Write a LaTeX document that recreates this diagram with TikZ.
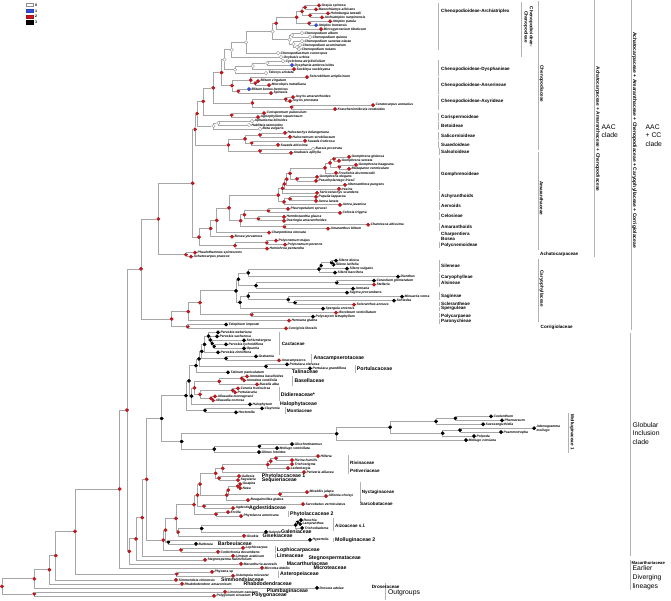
\documentclass[tikz,border=0pt]{standalone}
\usepackage{fontspec}
\setmainfont{Liberation Sans}
\usetikzlibrary{calc}
\definecolor{dred}{HTML}{C4161C}
\definecolor{dblue}{HTML}{2F4FD8}
\newcommand\ftip{\fontsize{3.35}{3.9}\selectfont\bfseries\itshape}
\newcommand\fclade{\fontsize{4.6}{5.2}\selectfont\bfseries}
\newcommand\fcladeL{\fontsize{5.2}{5.8}\selectfont\bfseries}
\newcommand\fbig{\fontsize{6.8}{8.6}\selectfont}
\begin{document}
\begin{tikzpicture}[x=1pt,y=-1pt,
 tdot/.style={circle,inner sep=0pt,minimum size=3.5pt,line width=0.35pt},
 cr/.style={fill=dred,draw=dred!85!black},
 cb/.style={fill=dblue,draw=dblue!85!black},
 ck/.style={fill=black,draw=black},
 cw/.style={fill=white,draw=gray!90},
 brn/.style={draw=gray!70,line width=0.65pt},
 cbar/.style={draw=gray!60,line width=0.7pt},
 tiplab/.style={anchor=west,inner sep=0.5pt,font=\ftip,align=left},
 clab/.style={anchor=west,inner sep=0pt,font=\fclade},
 clabL/.style={anchor=west,inner sep=0pt,font=\fcladeL},
 biglab/.style={anchor=west,inner sep=0pt,font=\fbig,align=left},
 rlab/.style={rotate=-90,inner sep=0pt,font=\fclade,align=center}]
\useasboundingbox (0,0) rectangle (671,601);

% legend
\foreach \yy/\st/\tt [count=\i] in {5/cw/0,11/cb/1,16.7/cr/2,22.3/ck/3}{
  \node[\st,rectangle,minimum width=7pt,minimum height=3.4pt,inner sep=0pt,line width=0.4pt] (lg\i) at (29.7,\yy) {};
  \node[anchor=west,inner sep=0pt,font=\fontsize{3.6}{4}\selectfont\bfseries] (lgt\i) at ([xshift=1.6pt]lg\i.east) {\tt};
}

% tips
\foreach \tk/\tx/\tc/\tl in {
0/319/cr/Grayia spinosa,1/316/cr/Manochlamys albicans,2/328/cr/Holmbergia tweedii,3/322/cr/Archiatriplex nanpinensis,
4/330/cr/Atriplex patula,5/316/cb/Atriplex hortensis,6/321/cr/Microgynoecium tibeticum,7/302/cw/Chenopodium album,
8/310/cw/Chenopodium quinoa,9/302/cw/Chenopodium sanctae-clarae,10/300/cw/Chenopodium acuminatum,11/299/cw/Chenopodium nutans,
12/278/cw/Chenopodiastrum coronopus,13/281/cw/Oxybasis urbica,14/283/cw/Cycloloma atriplicifolium,15/292/cb/Dysphania ambrosioides,
16/294/cr/Suckleya suckleyana,17/266/cw/Teloxys aristata,18/307/cr/Scleroblitum atriplicinum,19/258/cr/Blitum virgatum,
20/269/cr/Monolepis nuttalliana,21/249/cb/Blitum bonus-henricus,22/271/cr/Spinacia,23/293/cr/Axyris amaranthoides,
24/290/cr/Axyris prostrata,25/373/cr/Ceratocarpus arenarius,26/335/cr/Krascheninnikovia ceratoides,27/264/cr/Corispermum puberulum,
28/258/cr/Agriophyllum squarrosum,29/252/cw/Aphanisma blitoides,30/249/cw/Hablitzia tamnoides,31/260/cw/Beta vulgaris,
32/285/cr/Halostachys belangeriana,33/290/cr/Halocnemum strobilaceum,34/305/cr/Suaeda fruticosa,35/278/cr/Suaeda altissima,
36/313/cw/Bassia prostrata,37/291/cr/Anabasis aphylla,38/349/cr/Gomphrena globosa,39/339/cr/Gomphrena serrata,
40/356/cr/Gomphrena haageana,41/349/cr/Blutaparon vermiculare,42/336/cr/Froelichia drummondii,43/317/cr/Gomphrena elegans,
44/316/cr/Pseudoplantago friesii,45/345/cr/Alternanthera pungens,46/339/cr/Iresine,47/317/cr/Sericostachys scandens,
48/316/cr/Pupalia lappacea,49/316/cr/Aerva lanata,50/340/cr/Aerva javanica,51/288/cr/Pleuropetalum sprucei,
52/340/cr/Celosia trigyna,53/284/cr/Hermbstaedtia glauca,54/284/cr/Deeringia amaranthoides,55/368/cr/Chamissoa altissima,
56/328/cr/Amaranthus blitum,57/269/cr/Charpentiera obovata,58/232/cr/Bosea yervamora,59/276/cr/Polycnemum majus,
60/285/cr/Polycnemum perenne,61/267/cr/Hemichroa pentandra,62/195/cr/Phaulothamnus spinescens,63/191/cr/Achatocarpus praecox,
64/336/ck/Silene dioica,65/333.5/ck/Silene latifolia,66/347/ck/Silene vulgaris,67/335/ck/Silene baccifera,
68/398/ck/Dianthus,69/374/ck/Cerastium glomeratum,70/374/cr/Stellaria,71/353/ck/Arenaria,
72/347/ck/Sagina procumbens,73/402/ck/Minuartia verna,74/394/ck/Schiedea,75/354/cr/Scleranthus annuus,
76/323/ck/Spergula arvensis,77/336/cr/Illecebrum verticillatum,78/313/ck/Polycarpon tetraphyllum,79/289/cr/Herniaria glabra,
80/226/ck/Telephium imperati,81/286/cr/Corrigiola litoralis,82/218/ck/Pereskia weberiana,83/217/ck/Pereskia sacharosa,
84/244/ck/Schlumbergera,85/226/ck/Pereskia lychnidiflora,86/244/ck/Opuntia,87/218/ck/Pereskia zinniiflora,
88/256/ck/Grahamia,89/279/cr/Anacampseros,90/287/ck/Portulaca oleracea,91/310/ck/Portulaca grandiflora,
92/228/ck/Talinum paniculatum,93/247/cr/Anredera baselloides,94/244/cr/Anredera cordifolia,95/257/cr/Basella alba,
96/238/cr/Ceraria fruticulosa,97/235/cr/Portulacaria,98/215/cr/Alluaudia montagnacii,99/213/cr/Alluaudia comosa,
100/250/ck/Halophytum,101/262/ck/Claytonia,102/236/ck/Hectorella,103/491/ck/Coelanthum,
104/502/ck/Pharnaceum,105/483/ck/Suessenguthiella,106/534/ck/{Adenogramma\\mollugo},107/501/ck/Psammotropha,
108/474/ck/Polpoda,109/466/ck/Mollugo cerviana,110/292/ck/Glischrothamnus,111/277/ck/Mollugo verticillata,
112/259/ck/Glinus lotoides,113/318/cr/Hilleria,114/292/cr/Rivina humilis,115/292/cr/Trichostigma,
116/288/cr/Ledenbergia,117/304/cr/Petiveria alliacea,118/239/cr/Gallesia,119/238/cr/Seguieria,
120/240/cr/Guapira,121/240/cr/Neea,122/307/cr/Mirabilis jalapa,123/326/cr/Allionia choisyi,
124/248/cr/Bougainvillea glabra,125/303/cr/Sarcobatus vermiculatus,126/233/cr/Agdestis,127/228/cr/Ercilla,
128/241/cr/Phytolacca americana,129/301/ck/Ruschia,130/300/ck/Lampranthus,131/302/ck/Trichodiadema,
132/266/ck/Galenia,133/244/cr/Gisekia,134/310/ck/Hypertelis,135/196/ck/Barbeuia,
136/243/cr/Lophiocarpus,137/218/cr/Corbichonia decumbens,138/233/cr/Limeum arabicum,139/205/cr/Stegnosperma halimifolium,
140/241/cr/Macarthuria australis,141/262/cr/Microtea debilis,142/212/cr/Physena sp,143/233/cr/Asteropeia micraster,
144/176/cr/Simmondsia chinensis,145/182/cr/Rhabdodendron amazonicum,146/317/ck/Drosera adelae,147/225/cr/Limonium caesium,
148/214/cr/Polygonum sinuatum}{
  \node[tdot,\tc] (t\tk) at (\tx,{5.3+3.99*\tk}) {};
  \node[tiplab] (l\tk) at (t\tk.east) {\tl};
}

% internal nodes: name / x / child A / child B / colour  (y = midpoint of children)
\foreach \nm/\xp/\ca/\cb/\cl in {
A01/305/t0/t1/cr,A23/310/t2/t3/cr,A03/302/A01/A23/cr,A45/309/t4/t5/cr,A05/296.7/A03/A45/cr,ARC/276/A05/t6/cr,
C78/292/t7/t8/cw,C1011/297/t10/t11/cw,C911/293.5/t9/C1011/cw,CH/289.5/C78/C911/cw,ARCH/272.7/ARC/CH/cw,
NCH/246/ARCH/t12/cw,NCO/231.7/NCH/t13/cw,D1415/267.3/t14/t15/cw,D3/252.7/D1415/t16/cw,DYS/235/D3/t17/cw,
NCD/224.5/NCO/DYS/cw,B1920/255.3/t19/t20/cr,B18/250.7/t18/B1920/cr,B2122/238.3/t21/t22/cr,ANS/232/B18/B2122/cr,
CHDA/221.5/NCD/ANS/cr,AX2324/285.7/t23/t24/cr,AX2526/291.7/t25/t26/cr,AXY/252.3/AX2324/AX2526/cr,
CHEN/213.3/CHDA/AXY/cr,COR/231.7/t27/t28/cr,CC1/203.3/CHEN/COR/cr,BE1/218.3/t29/t30/cw,BET/213.3/BE1/t31/cw,
CC2/197/CC1/BET/cr,SA/260/t32/t33/cr,SU/251.7/t34/t35/cr,SASU/245/SA/SU/cr,SAL/260/t36/t37/cr,
SSS/228.3/SASU/SAL/cr,CHENO/195/CC2/SSS/cr,
g3839/334/t38/t39/cr,g4041/339.3/t40/t41/cr,g3841/330/g3839/g4041/cr,g3842/325/g3841/t42/cr,
g4344/297/t43/t44/cr,G4/290/g3842/g4344/cr,G3/286.7/G4/t45/cr,G2/284.3/G3/t46/cr,GUP/282.5/G2/t47/cr,
AE1/290/t48/t49/cr,AE/284/AE1/t50/cr,GOM/278.3/GUP/AE/cr,CE1/268.3/t51/t52/cr,HD/258.3/t53/t54/cr,
CEHD/244.3/CE1/HD/cr,CH1/284.3/t55/t56/cr,AMR/240.7/CEHD/CH1/cr,AM3/229/GOM/AMR/cr,AM2/216.7/AM3/t57/cr,
AM1/210.7/AM2/t58/cr,P5960/266.7/t59/t60/cr,POL/235/P5960/t61/cr,AM/199/AM1/POL/cr,CA/192.7/CHENO/AM/cr,
ACH/186/t62/t63/cr,AAC/158.3/CA/ACH/cr,
SL1/331.5/t64/t65/ck,SL2/321/SL1/t66/ck,SL3/319/SL2/t67/ck,SLD/248.3/SL3/t68/ck,CS/336.7/t69/t70/ck,
CSA/256/CS/t71/ck,CAR1/238.3/SLD/CSA/ck,SG1/295/t74/t75/ck,SG2/288.3/t73/SG1/ck,SG3/248.3/t72/SG2/ck,
SP/240/SG3/t76/ck,CY2/236/CAR1/SP/ck,IP/251.7/t77/t78/cr,CY1/200/CY2/IP/cr,CY/188.3/CY1/t79/cr,
CT/187.7/t80/t81/cr,CC/171.7/CY/CT/cr,ACC/141/AAC/CC/cr,
CP1/214/t85/t86/ck,CP2/212/t84/CP1/ck,CP3/210.3/t83/CP2/ck,CP4/208.5/t82/CP3/ck,CE/204.5/CP4/t87/ck,
GA/226/t88/t89/ck,ACg/201.7/CE/GA/ck,PO/266/t90/t91/ck,ACP/199/ACg/PO/ck,ACPT/196/ACP/t92/ck,
B1/241.7/t93/t94/cr,B0/219.3/B1/t95/cr,D1/232.7/t96/t97/cr,D2/211/t98/t99/cr,D0/200/D1/D2/cr,
BD/194.5/B0/D0/cr,BDH/191.5/BD/t100/ck,XP/189/ACPT/BDH/ck,MO/205/t101/t102/ck,Port/186/XP/MO/ck,
M12/455.3/t103/t104/ck,M123/436/M12/t105/ck,M45/460/t106/t107/ck,M456/442.7/M45/t108/ck,
M16/390/M123/M456/ck,MOL1/336.7/M16/t109/ck,GL12/259.3/t110/t111/ck,GL/214.3/GL12/t112/ck,
MG/181.7/MOL1/GL/ck,PM/161.7/Port/MG/ck,
R4/276/t113/t114/cr,R3/270.7/R4/t115/cr,R2/267.7/R3/t116/cr,R1/222.7/R2/t117/cr,S1/219/t118/t119/cr,
R0/215.7/R1/S1/cr,NY1/237.7/t120/t121/cr,NY2/280/t122/t123/cr,NY3/228.3/NY1/NY2/cr,NY4/226.7/NY3/t124/cr,
RN/200/R0/NY4/cr,SA2/204/t125/t126/cr,RNS/197.5/RN/SA2/cr,PA/216/t127/t128/cr,RNAP/194/RNS/PA/cr,
AZ1/297.5/t129/t130/ck,AZ0/295.5/AZ1/t131/ck,AZG/201.7/AZ0/t132/ck,AG/178/AZG/t133/cr,G2g/176/RNAP/AG/cr,
MB/168.3/t134/t135/ck,G1g/165.5/G2g/MB/cr,LC/181/t136/t137/cr,G0g/163.3/G1g/LC/cr,
PMG/146.7/PM/G0g/cr,L1/142.3/PMG/t138/cr,L2/136/L1/t139/cr,L3/129.3/L2/t140/cr,L4/127/ACC/L3/cr,
L5/119.7/L4/t141/cr,PA2/176.7/t142/t143/cr,L6/75/L5/PA2/cr,L7/55.7/L6/t144/cr,L8/49.3/L7/t145/cr,
L9/34.3/L8/t146/cr,LP/34.3/t147/t148/cr,ROOT/2/L9/LP/cr}{
  \path let \p1=(\ca.center), \p2=(\cb.center) in
    node[tdot,\cl] (\nm) at (\xp pt,{0.5*(\y1+\y2)}) {};
  \draw[brn] (\nm) |- (\ca);
  \draw[brn] (\nm) |- (\cb);
}

% clade bars
\foreach \bx/\ya/\yb in {438/3/50,521.7/2/57,438/60.5/76,438/77/94,438/95/110,438/113/121,438/122/130.5,
438/132.5/140,438/141/148,439/148.5/155,439/158/190,439/191.5/201,439/202.3/210,439/211.7/220.5,439/223/231,
439/241.7/248.5,439/260/271.7,439/273.3/280,439/280.5/287,439/291.7/300,439/301.7/306,439/306.7/310.7,
439/313.3/318.3,439/319.3/324,538.7/1/150,538.7/152/250,538.7/259/322,594.3/0/257,631/0/330,630/333/556,
630/560/590,568.3/413/453,279.3/331.7/355,311.7/354/363.3,355/365/372.7,292.7/376/386,279.3/387.3/400.7,
285/407.3/414,348/455/474,360/481.7/501.7,288.3/510.7/517.3,333.3/518.3/530.7,333.3/537.7/541.7,
275.7/545.7/553.3,275.7/554/557.5,278.3/571/578,385/583/600}{
  \draw[cbar] (\bx,\ya) -- (\bx,\yb);
}

% clade labels (small)
\foreach \xx/\yy/\tt [count=\i] in {441/11/Chenopodioideae-Archiatriplex,441/69/Chenopodioideae-Dysphanieae,
441/85.7/Chenopodioideae-Anserineae,441/101.3/Chenopodioideae-Axyrideae,441/117/Corispermoideae,441/126/Betoideae,
441/136.3/Salicornioideae,441/144.5/Suaedoideae,441/152/Salsoloideae,441/174/Gomphrenoideae,441/196.7/Achyranthoids,
441/205.7/Aervoids,441/216/Celosieae,441/227.3/Amaranthoids,441/234/Charpentiera,441/238.5/Bosea,441/245.7/Polycnemoideae,
540/254.3/Achatocarpaceae,441/266.3/Sileneae,441/277/Caryophylleae,441/283/Alsineae,441/296/Sagineae,441/303.7/Sclerantheae,
441/308.5/Sperguleae,441/316/Polycarpaeae,441/321.7/Paronychieae,540.5/327/Corrigiolaceae,281.7/344.3/Cactaceae,
286.7/411/Montiaceae,350/462.7/Rivinaceae,350/470.7/Petiveriaceae,361.7/492.3/Nyctaginaceae,360/504/Sarcobataceae,
335/526/Aizoaceae s.l.,371.7/587.3/Droseraceae}{
  \node[clab] (ca\i) at (\xx,\yy) {\tt};
}
% clade labels (larger)
\foreach \xx/\yy/\tt [count=\i] in {313.3/358.3/Anacampserotaceae,356.7/368.7/Portulacaceae,291.7/372/Talinaceae,
294.3/380.7/Basellaceae,280.7/394.3/Didiereaceae*,280/403.7/Halophytaceae,261.7/476/Phytolaccaceae 1,
261.7/480.3/Sequieriaceae,249/507.7/Agdestidaceae,290/514.3/Phytolaccaceae 2,281/531.7/Galeniaceae,
262.3/535.7/Gisekiaceae,335/539.8/Molluginaceae 2,217.7/544/Barbeuiaceae,276.7/550/Lophiocarpaceae,
276.7/555.5/Limeaceae,308.3/558.6/Stegnospermataceae,286.7/563.5/Macarthuriaceae,313.3/567.7/Microteaceae,
280/574.3/Asteropeiaceae,221/579.8/Simmondsiaceae,243.3/583.8/Rhabdodendraceae,266.7/591.5/Plumbaginaceae,
251.7/595.5/Polygonaceae}{
  \node[clabL] (cb\i) at (\xx,\yy) {\tt};
}
\node[anchor=west,inner sep=0pt,font=\fontsize{4.2}{5}\selectfont\bfseries] (macsm) at (631.5,563.3) {Macarthuriaceae};

% rotated labels
\node[rlab] (rChen) at (541.5,84) {Chenopodiaceae};
\node[rlab] (rAmar) at (541.5,198.3) {Amaranthaceae};
\node[rlab] (rCary) at (541.5,288.8) {Caryophyllaceae};
\node[rlab] (rChpd) at (528.5,27) {Chenopodioideae-\\Chenopodieae};
\node[rlab,font=\fontsize{4.8}{5.4}\selectfont\bfseries] (rAAC) at (597.5,129) {Achatocarpaceae + Amaranthaceae + Chenopodiaceae};
\node[rlab,font=\fontsize{5}{5.6}\selectfont\bfseries] (rAACC) at (634.5,140) {Achatocarpaceae + Amaranthaceae + Chenopodiaceae + Caryophyllaceae + Corrigiolaceae};
\node[rlab] (rMol) at (572,432) {Molluginaceae 1};

% big labels
\node[biglab] (bAAC) at (601.5,131.3) {AAC\\clade};
\node[biglab] (bAACC) at (645.5,135.4) {AAC\\+ CC\\clade};
\node[biglab] (bGlob) at (632.5,433.3) {Globular\\Inclusion\\clade};
\node[biglab] (bEarl) at (632.5,577.8) {Earlier\\Diverging\\lineages};
\node[biglab] (bOut) at (388,592.7) {Outgroups};
\end{tikzpicture}
\end{document}
